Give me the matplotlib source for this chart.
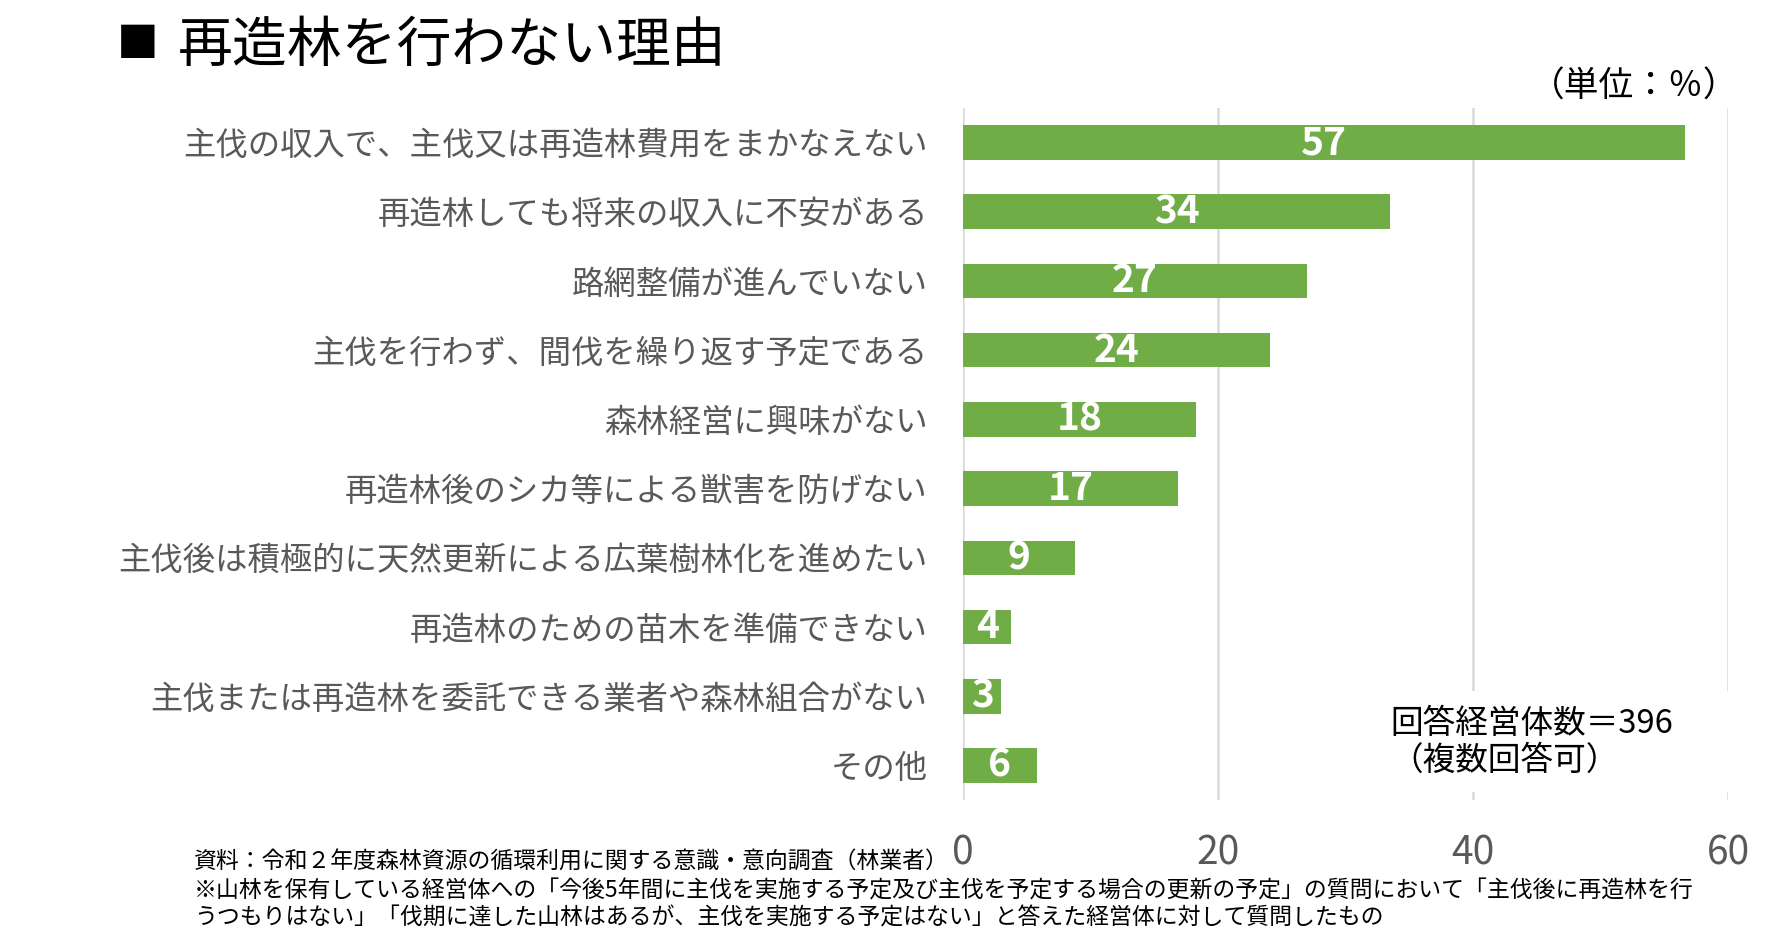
import matplotlib
matplotlib.use("Agg")
import matplotlib.pyplot as plt
from matplotlib.patches import Rectangle

plt.rcParams['font.family'] = ['Noto Sans CJK JP', 'DejaVu Sans']

categories = [
    "主伐の収入で、主伐又は再造林費用をまかなえない",
    "再造林しても将来の収入に不安がある",
    "路網整備が進んでいない",
    "主伐を行わず、間伐を繰り返す予定である",
    "森林経営に興味がない",
    "再造林後のシカ等による獣害を防げない",
    "主伐後は積極的に天然更新による広葉樹林化を進めたい",
    "再造林のための苗木を準備できない",
    "主伐または再造林を委託できる業者や森林組合がない",
    "その他",
]
values = [56.6, 33.5, 27.0, 24.1, 18.3, 16.9, 8.8, 3.8, 3.0, 5.8]
xticks = [0, 20, 40, 60]

title_mark = "■"
title = "再造林を行わない理由"
unit = "（単位：％）"
note = "回答経営体数＝396\n（複数回答可）"
source_lines = [
    "資料：令和２年度森林資源の循環利用に関する意識・意向調査（林業者）",
    "※山林を保有している経営体への「今後5年間に主伐を実施する予定及び主伐を予定する場合の更新の予定」の質問において「主伐後に再造林を行",
    "うつもりはない」「伐期に達した山林はあるが、主伐を実施する予定はない」と答えた経営体に対して質問したもの",
]

W, H = 1790, 949
fig = plt.figure(figsize=(W / 100, H / 100), dpi=100)
fig.patch.set_facecolor('white')

ax_l, ax_r, ax_t, ax_b = 963, 1728, 108, 800
ax = fig.add_axes([ax_l / W, 1 - ax_b / H, (ax_r - ax_l) / W, (ax_b - ax_t) / H])

green = '#70AD47'
grey_txt = '#595959'

y = list(range(len(categories)))
bars = ax.barh(y, values, height=0.5, color=green, zorder=2)
ax.bar_label(bars, labels=[f"{v:.0f}" for v in values], label_type='center',
             color='white', fontsize=28, fontweight='bold', zorder=4)

ax.set_ylim(len(categories) - 0.5, -0.5)
ax.set_xlim(0, 60)
ax.set_xticks(xticks)
ax.set_xticklabels([str(t) for t in xticks], fontsize=28, color=grey_txt)
ax.set_yticks(y)
ax.set_yticklabels(categories, fontsize=23.3, color=grey_txt)
ax.tick_params(axis='y', length=0, pad=25.5)
ax.tick_params(axis='x', length=0, pad=24)
for s in ax.spines.values():
    s.set_visible(False)
ax.set_axisbelow(True)
ax.grid(axis='x', color='#D9D9D9', linewidth=1.8)
ax.set_facecolor('white')

# white box behind the note (covers gridlines)
ax.add_patch(Rectangle((32, 7.93), 30.5, 1.45, facecolor='white', edgecolor='none',
                       zorder=1.5, clip_on=False))
ax.text(1390, H - 742, note, transform=None, fontsize=23.5, color='black',
        ha='left', va='center', linespacing=1.2, zorder=5)

fig.text(117 / W, 1 - 46 / H, title_mark, fontsize=30, color='black', ha='left', va='center')
fig.text(178 / W, 1 - 46 / H, title, fontsize=39.5, color='black', ha='left', va='center')
fig.text(1738 / W, 1 - 87 / H, unit, fontsize=25, color='black', ha='right', va='center')

for yy, line in zip([862, 891, 918], source_lines):
    fig.text(194 / W, 1 - yy / H, line, fontsize=16.5, color='black', ha='left', va='center')

fig.savefig('out.png', dpi=100, facecolor='white')
